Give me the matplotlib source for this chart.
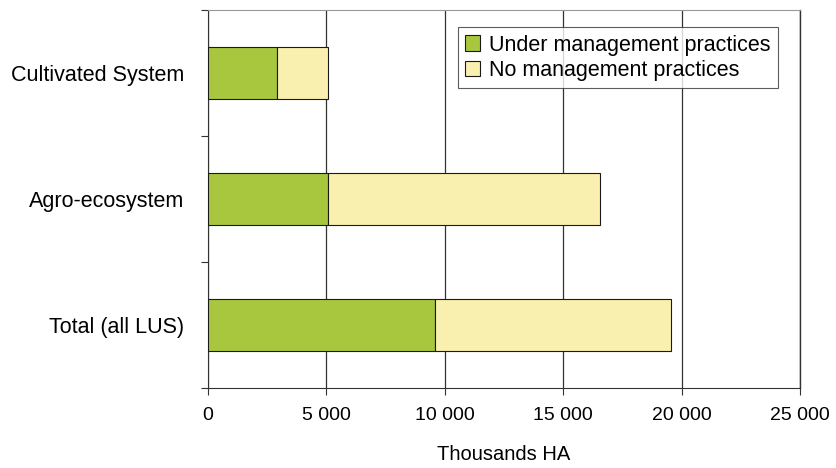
import matplotlib
matplotlib.use("Agg")
import matplotlib.pyplot as plt
from matplotlib.ticker import FuncFormatter

categories = ["Total (all LUS)", "Agro-ecosystem", "Cultivated System"]
under_mgmt = [9600, 5050, 2900]
no_mgmt = [9950, 11500, 2150]
x_ticks = [0, 5000, 10000, 15000, 20000, 25000]

plt.rcParams["font.family"] = ["Liberation Sans", "DejaVu Sans"]

fig = plt.figure(figsize=(8.36, 4.68), dpi=100)
ax = fig.add_axes([0.2488, 0.171, 0.7081, 0.8076])

pos = list(range(len(categories)))
ax.barh(pos, under_mgmt, height=0.41, color="#A8C73F", edgecolor="#1a1a1a",
        linewidth=0.8, label="Under management practices", zorder=3)
ax.barh(pos, no_mgmt, left=under_mgmt, height=0.41, color="#F9EFAE",
        edgecolor="#1a1a1a", linewidth=0.8, label="No management practices", zorder=3)

ax.set_xlim(0, 25000)
ax.set_ylim(-0.5, len(categories) - 0.5)
ax.set_xticks(x_ticks)
ax.xaxis.set_major_formatter(FuncFormatter(lambda v, p: f"{int(v):,}".replace(",", " ")))
ax.grid(axis="x", color="#333333", linewidth=0.9, zorder=0)
ax.axvline(x_ticks[-1], color="#333333", linewidth=1.0, zorder=0, clip_on=False)

# category boundary ticks on the y axis, labels in the middle
ax.set_yticks([p - 0.5 for p in pos] + [pos[-1] + 0.5])
ax.set_yticklabels([])
ax.set_yticks(pos, minor=True)
ax.set_yticklabels(categories, minor=True, fontsize=15.5)
ax.tick_params(axis="y", which="minor", length=0, pad=17)
ax.tick_params(axis="y", which="major", length=5, color="#333333")
ax.tick_params(axis="x", length=5, color="#333333", labelsize=14, pad=9)

for side in ["left", "bottom"]:
    ax.spines[side].set_color("#333333")
ax.spines["top"].set_color("#999999")
ax.spines["right"].set_visible(False)

ax.set_xlabel("Thousands HA", fontsize=14.5, labelpad=15)

leg = ax.legend(loc="upper left", bbox_to_anchor=(0.422, 0.955), fontsize=15.5,
                frameon=True, fancybox=False, edgecolor="#333333",
                handlelength=0.7, handleheight=0.7, handletextpad=0.4,
                borderpad=0.35, labelspacing=0.2, borderaxespad=0)
leg.get_frame().set_linewidth(0.8)

fig.savefig("out.png", dpi=100)
